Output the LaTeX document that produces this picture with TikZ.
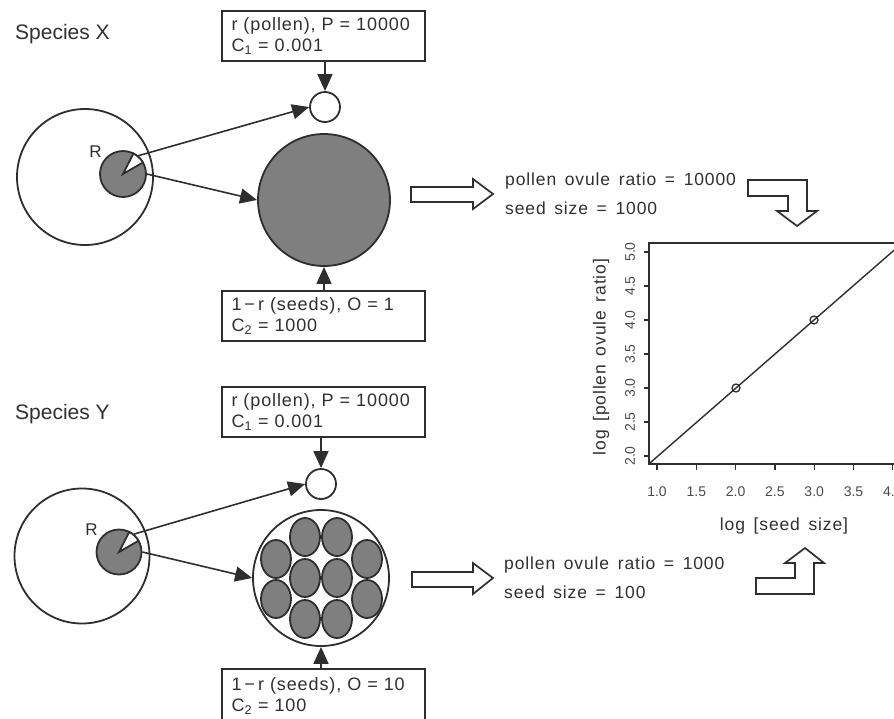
\documentclass[tikz,border=0pt]{standalone}
\usepackage{fontspec}
\setmainfont{Liberation Sans}
\newfontfamily\spaced[LetterSpace=5,WordSpace=1.5]{Liberation Sans}
\newfontfamily\boxfont[LetterSpace=5,WordSpace=1.5]{Liberation Sans}
\usetikzlibrary{arrows.meta}
\definecolor{ink}{HTML}{2E2E2E}
\definecolor{seedgray}{HTML}{7F7F7F}
\definecolor{txt}{HTML}{303030}
\definecolor{ticktxt}{HTML}{4A4A4A}
\begin{document}
\begin{tikzpicture}[x=1pt,y=-1pt,
  outline/.style={draw=ink, line width=1.8pt},
  arr/.style={draw=ink, line width=1.6pt, -{Triangle[length=17pt,width=15pt]}},
  infobox/.style={outline, fill=white, minimum width=203pt, minimum height=50pt, text width=184pt,
     align=left, inner xsep=9pt, inner ysep=0pt, text=txt, font=\boxfont\fontsize{18}{21}\selectfont},
  species/.style={anchor=base west, inner sep=0pt, text=txt, font=\fontsize{21}{25}\selectfont},
  result/.style={anchor=base west, inner sep=0pt, text=txt, font=\spaced\fontsize{17.5}{21}\selectfont},
  blob/.style={circle, outline, inner sep=0pt},
  hollow/.style={draw=ink, line width=1.7pt, fill=white, line join=miter},
  ticklab/.style={inner sep=0pt, text=ticktxt, font=\fontsize{14}{16}\selectfont},
  axlab/.style={inner sep=0pt, text=txt, font=\spaced\fontsize{17.5}{21}\selectfont},
  rlab/.style={anchor=base, inner sep=0pt, text=txt, font=\fontsize{17}{20}\selectfont}
]
\useasboundingbox (0,0) rectangle (894,718);

% ---------------- Species X ----------------
\node[species] (spX) at (15,39.5) {Species X};
\node[infobox] (topX) at (323.5,36) {r (pollen), P = 10000\\C\textsubscript{1} = 0.001};
\node[blob, fill=white, minimum size=30pt] (polX) at (325,107) {};
\node[blob, fill=white, minimum size=136pt] (plantX) at (85,177) {};
\node[blob, fill=seedgray, minimum size=46pt] (resX) at (123,174) {};
\draw[outline, fill=white, line join=miter] (resX.center) -- ++(-30:23) arc[start angle=-30, end angle=-63, radius=23] -- cycle;
\node[rlab] (RX) at (95.5,157) {R};
\node[blob, fill=seedgray, minimum size=132pt] (seedX) at (324,200) {};
\node[infobox] (botX) at (323.5,316.3) {1\,\textminus\,r (seeds), O = 1\\C\textsubscript{2} = 1000};

\draw[arr] (topX.south -| polX.center) -- (polX.north);
\draw[arr] (resX.50) -- (polX.west);
\draw[arr] (resX.east) -- (seedX.west);
\draw[arr] (botX.north -| seedX.center) -- (seedX.south);

\draw[hollow] (411,187) -- (473,187) -- (473,179) -- (493,194) -- (473,209) -- (473,202) -- (411,202) -- cycle;
\node[result] (poX) at (505,185.5) {pollen ovule ratio = 10000};
\node[result] (ssX) at (505,214.3) {seed size = 1000};
\draw[hollow] (748,180) -- (807,180) -- (807,211) -- (817,211) -- (797,226) -- (777,211) -- (788,211) -- (788,196) -- (748,196) -- cycle;

% ---------------- Species Y ----------------
\node[species] (spY) at (15,419) {Species Y};
\node[infobox] (topY) at (323.5,412) {r (pollen), P = 10000\\C\textsubscript{1} = 0.001};
\node[blob, fill=white, minimum size=30pt] (polY) at (321,484) {};
\node[blob, fill=white, minimum size=135pt] (plantY) at (82,556) {};
\node[blob, fill=seedgray, minimum size=45pt] (resY) at (119,552) {};
\draw[outline, fill=white, line join=miter] (resY.center) -- ++(-30:22.5) arc[start angle=-30, end angle=-63, radius=22.5] -- cycle;
\node[rlab] (RY) at (91.5,535) {R};
\node[blob, fill=white, minimum size=136pt] (seedY) at (321,578) {};
\foreach \sx/\sy in {305/537,337/537,305/578,337/578,305/619,337/619,276/559,276/599,367/559,367/599}
  \draw[outline, fill=seedgray] (\sx,\sy) ellipse [x radius=15, y radius=19];
\node[infobox, minimum height=56pt] (botY) at (323.5,697) {1\,\textminus\,r (seeds), O = 10\\C\textsubscript{2} = 100\rule[-5pt]{0pt}{0pt}};

\draw[arr] (topY.south -| polY.center) -- (polY.north);
\draw[arr] (resY.50) -- (polY.west);
\draw[arr] (resY.east) -- (seedY.west);
\draw[arr] (botY.north -| seedY.center) -- (seedY.south);

\draw[hollow] (412,572) -- (473,572) -- (473,563) -- (493,578) -- (473,594) -- (473,587) -- (412,587) -- cycle;
\node[result] (poY) at (504,569.3) {pollen ovule ratio = 1000};
\node[result] (ssY) at (504,598.3) {seed size = 100};
\draw[hollow] (756,578) -- (795,578) -- (795,563) -- (785,563) -- (805,548) -- (824,563) -- (814,563) -- (814,594) -- (756,594) -- cycle;

% ---------------- Plot ----------------
\begin{scope}
\clip (600,230) rectangle (894,480);
\draw[outline] (894,243) -- (649,243) -- (649,464) -- (894,464);
\foreach \v [count=\i from 0] in {2.0,2.5,3.0,3.5,4.0,4.5,5.0}
  \draw[outline, line width=1.3pt] (649,{456-34*\i}) -- (644,{456-34*\i});
\foreach \u [count=\i from 0] in {1.0,1.5,2.0,2.5,3.0,3.5,4.0}
  \draw[outline, line width=1.3pt] ({657+39.3*\i},464) -- ({657+39.3*\i},470);
\coordinate (lineA) at (649,463.8);
\coordinate (lineB) at (895,249.4);
\draw[draw=ink, line width=1.4pt] (lineA) -- (lineB);
\node[circle, draw=ink, line width=1.3pt, inner sep=0pt, minimum size=8pt] (pt1) at (736,388) {};
\node[circle, draw=ink, line width=1.3pt, inner sep=0pt, minimum size=8pt] (pt2) at (814,320) {};
\end{scope}
\foreach \v [count=\i from 0] in {2.0,2.5,3.0,3.5,4.0,4.5,5.0}
  \node[ticklab, rotate=90] (yt\i) at (630,{456-34*\i}) {\v};
\foreach \u [count=\i from 0] in {1.0,1.5,2.0,2.5,3.0,3.5,4.0}
  \node[ticklab, anchor=base] (xt\i) at ({657+39.3*\i},496.5) {\u};
\node[axlab, rotate=90] (ylab) at (601,357) {log [pollen ovule ratio]};
\node[axlab] (xlab) at (784,526) {log [seed size]};
\end{tikzpicture}
\end{document}
